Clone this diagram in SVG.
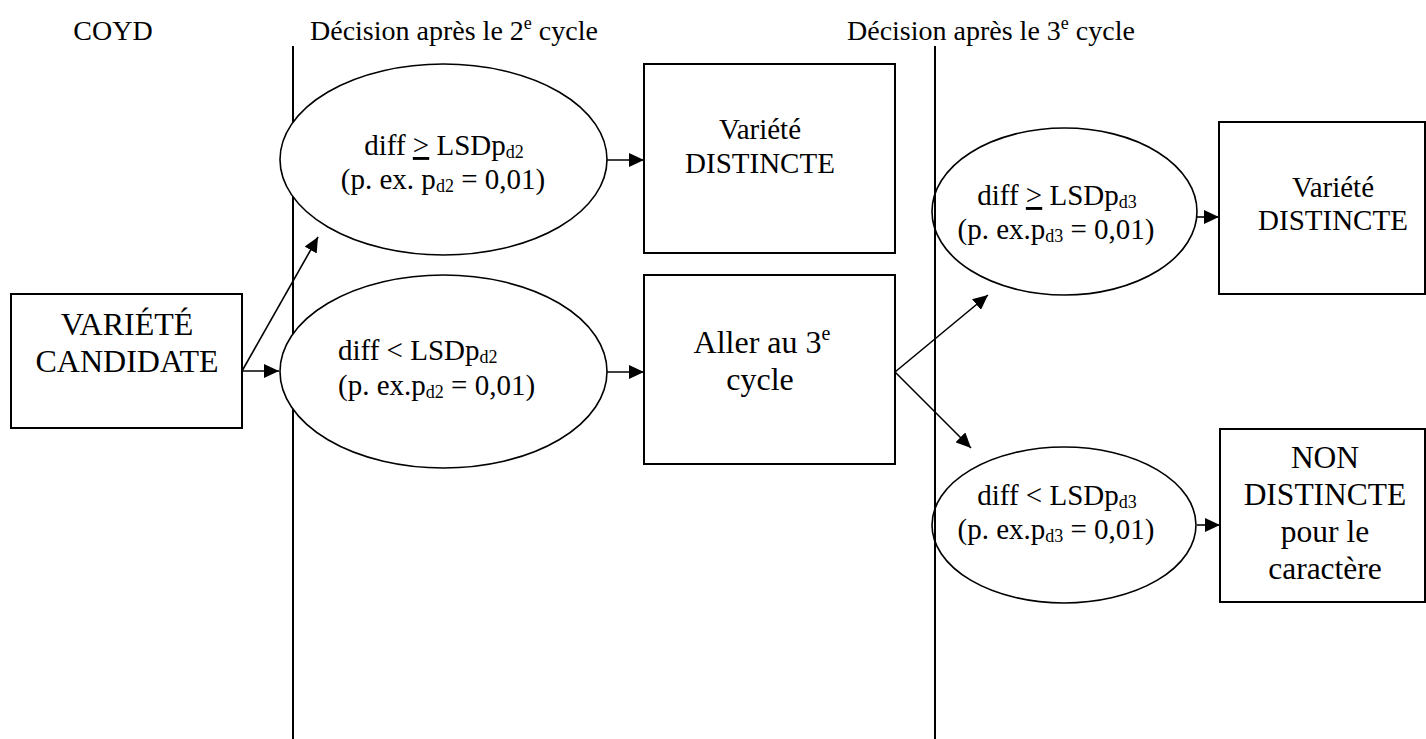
<svg xmlns="http://www.w3.org/2000/svg" width="1426" height="739" viewBox="0 0 1426 739">
<style>
text{font-family:"Liberation Serif","Times New Roman",serif;fill:#000}
.hdr{font-size:28px}
.box{fill:#fff;stroke:#000;stroke-width:2}
.ell{fill:#fff;stroke:#000;stroke-width:1.6}
.div{stroke:#000;stroke-width:2}
.con{stroke:#000;stroke-width:1.6;fill:none;marker-end:url(#ah)}
.et{font-size:29px}
.sub{font-size:18px}
</style>
<defs>
<marker id="ah" markerUnits="userSpaceOnUse" markerWidth="16" markerHeight="14" refX="15" refY="7" orient="auto">
<path d="M0,0 L15,7 L0,14 z" fill="#000"/>
</marker>
</defs>
<rect width="1426" height="739" fill="#fff"/>

<g id="headers">
<text class="hdr" x="113" y="40" text-anchor="middle">COYD</text>
<text class="hdr" x="310" y="40">Décision après le 2<tspan font-size="18px" dy="-11">e</tspan><tspan dy="11"> cycle</tspan></text>
<text class="hdr" x="847" y="40">Décision après le 3<tspan font-size="18px" dy="-11">e</tspan><tspan dy="11"> cycle</tspan></text>
</g>

<g id="divider1"><line class="div" x1="293" y1="46" x2="293" y2="739"/></g>

<g id="candidate">
<rect class="box" x="11" y="294" width="231" height="134"/>
<text x="127" y="335" font-size="32" text-anchor="middle">VARIÉTÉ</text>
<text x="127" y="372" font-size="32" text-anchor="middle">CANDIDATE</text>
</g>

<g id="e_d2_ge">
<ellipse class="ell" cx="443.5" cy="159.5" rx="163.5" ry="95.5"/>
<text class="et" x="444" y="155" text-anchor="middle">diff <tspan text-decoration="underline">&gt;</tspan> LSDp<tspan class="sub" dy="3">d2</tspan></text>
<text class="et" x="443" y="189" text-anchor="middle">(p. ex. p<tspan class="sub" dy="3">d2</tspan><tspan dy="-3"> = 0,01)</tspan></text>
</g>

<g id="e_d2_lt">
<ellipse class="ell" cx="443.5" cy="371.5" rx="163.5" ry="96.5"/>
<text class="et" x="338" y="360">diff &lt; LSDp<tspan class="sub" dy="3">d2</tspan></text>
<text class="et" x="338" y="395">(p. ex.p<tspan class="sub" dy="3">d2</tspan><tspan dy="-3"> = 0,01)</tspan></text>
</g>

<g id="distinct2">
<rect class="box" x="644" y="64" width="251" height="189"/>
<text x="760" y="139" font-size="29" text-anchor="middle">Variété</text>
<text x="760" y="173" font-size="29" text-anchor="middle">DISTINCTE</text>
</g>

<g id="goto3">
<rect class="box" x="644" y="275" width="251" height="189"/>
<text x="762" y="353" font-size="32" text-anchor="middle">Aller au 3<tspan font-size="20" dy="-13">e</tspan></text>
<text x="760" y="390" font-size="32" text-anchor="middle">cycle</text>
</g>

<g id="e_d3_ge">
<ellipse class="ell" cx="1064.5" cy="211.5" rx="132.5" ry="83.5"/>
<text class="et" x="1057" y="205" text-anchor="middle">diff <tspan text-decoration="underline">&gt;</tspan> LSDp<tspan class="sub" dy="3">d3</tspan></text>
<text class="et" x="1056" y="239" text-anchor="middle">(p. ex.p<tspan class="sub" dy="3">d3</tspan><tspan dy="-3"> = 0,01)</tspan></text>
</g>

<g id="e_d3_lt">
<ellipse class="ell" cx="1064" cy="525" rx="132" ry="78"/>
<text class="et" x="1057" y="505" text-anchor="middle">diff &lt; LSDp<tspan class="sub" dy="3">d3</tspan></text>
<text class="et" x="1056" y="539" text-anchor="middle">(p. ex.p<tspan class="sub" dy="3">d3</tspan><tspan dy="-3"> = 0,01)</tspan></text>
</g>

<g id="divider2"><line class="div" x1="935" y1="46" x2="935" y2="739"/></g>

<g id="distinct3">
<rect class="box" x="1219" y="122" width="206" height="172"/>
<text x="1333" y="197" font-size="29" text-anchor="middle">Variété</text>
<text x="1333" y="230" font-size="29" text-anchor="middle">DISTINCTE</text>
</g>

<g id="nondistinct">
<rect class="box" x="1220" y="429" width="205" height="173"/>
<text x="1325" y="468" font-size="31.5" text-anchor="middle">NON</text>
<text x="1325" y="505" font-size="31.5" text-anchor="middle">DISTINCTE</text>
<text x="1325" y="542" font-size="31.5" text-anchor="middle">pour le</text>
<text x="1325" y="579" font-size="31.5" text-anchor="middle">caractère</text>
</g>

<g id="connectors">
<line class="con" x1="242" y1="371" x2="279" y2="371"/>
<line class="con" x1="242" y1="371" x2="318" y2="237"/>
<line class="con" x1="607" y1="160" x2="644" y2="160"/>
<line class="con" x1="607" y1="372" x2="644" y2="372"/>
<line class="con" x1="895" y1="372" x2="988" y2="295"/>
<line class="con" x1="895" y1="372" x2="971" y2="448"/>
<line class="con" x1="1197" y1="217" x2="1219" y2="217"/>
<line class="con" x1="1197" y1="525" x2="1220" y2="525"/>
</g>
</svg>
